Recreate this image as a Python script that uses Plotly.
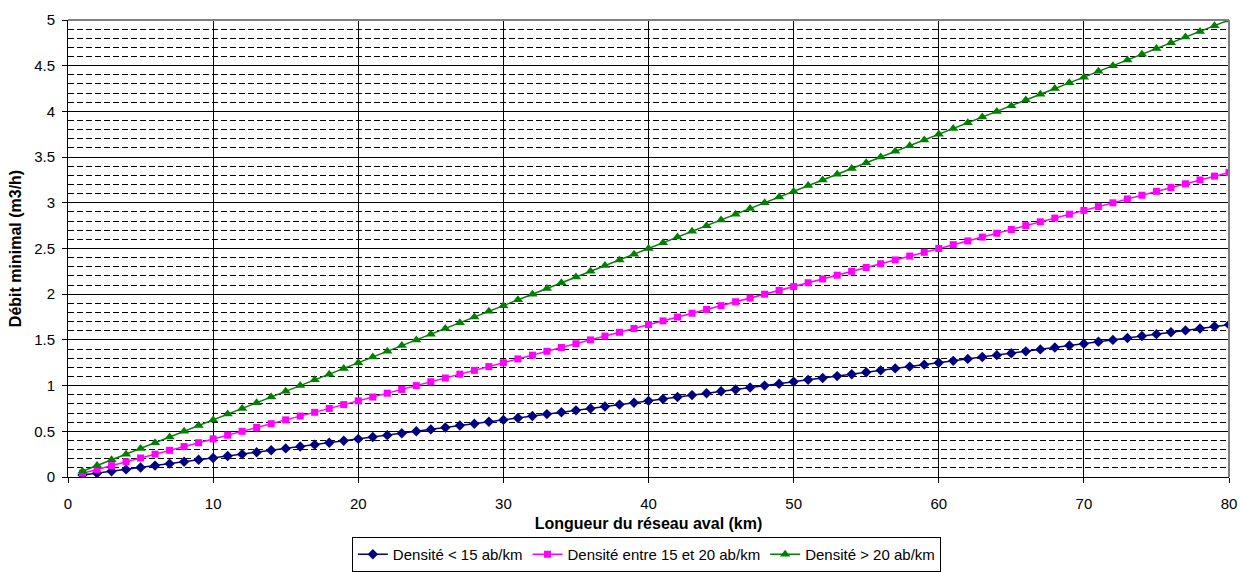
import plotly.graph_objects as go

# Longueur du réseau aval (km)
longueur_km = list(range(1, 81))

# Débit minimal (m3/h) pour chaque classe de densité
debit_faible = [
    0.021, 0.042, 0.063, 0.083, 0.104, 0.125, 0.146, 0.167, 0.188, 0.208,
    0.229, 0.250, 0.271, 0.292, 0.313, 0.333, 0.354, 0.375, 0.396, 0.417,
    0.438, 0.458, 0.479, 0.500, 0.521, 0.542, 0.563, 0.583, 0.604, 0.625,
    0.646, 0.667, 0.688, 0.708, 0.729, 0.750, 0.771, 0.792, 0.813, 0.833,
    0.854, 0.875, 0.896, 0.917, 0.938, 0.958, 0.979, 1.000, 1.021, 1.042,
    1.063, 1.083, 1.104, 1.125, 1.146, 1.167, 1.188, 1.208, 1.229, 1.250,
    1.271, 1.292, 1.313, 1.333, 1.354, 1.375, 1.396, 1.417, 1.438, 1.458,
    1.479, 1.500, 1.521, 1.542, 1.563, 1.583, 1.604, 1.625, 1.646, 1.667,
]
debit_moyen = [
    0.042, 0.083, 0.125, 0.167, 0.208, 0.250, 0.292, 0.333, 0.375, 0.417,
    0.458, 0.500, 0.542, 0.583, 0.625, 0.667, 0.708, 0.750, 0.792, 0.833,
    0.875, 0.917, 0.958, 1.000, 1.042, 1.083, 1.125, 1.167, 1.208, 1.250,
    1.292, 1.333, 1.375, 1.417, 1.458, 1.500, 1.542, 1.583, 1.625, 1.667,
    1.708, 1.750, 1.792, 1.833, 1.875, 1.917, 1.958, 2.000, 2.042, 2.083,
    2.125, 2.167, 2.208, 2.250, 2.292, 2.333, 2.375, 2.417, 2.458, 2.500,
    2.542, 2.583, 2.625, 2.667, 2.708, 2.750, 2.792, 2.833, 2.875, 2.917,
    2.958, 3.000, 3.042, 3.083, 3.125, 3.167, 3.208, 3.250, 3.292, 3.333,
]
debit_fort = [
    0.063, 0.125, 0.188, 0.250, 0.313, 0.375, 0.438, 0.500, 0.563, 0.625,
    0.688, 0.750, 0.813, 0.875, 0.938, 1.000, 1.063, 1.125, 1.188, 1.250,
    1.313, 1.375, 1.438, 1.500, 1.563, 1.625, 1.688, 1.750, 1.813, 1.875,
    1.938, 2.000, 2.063, 2.125, 2.188, 2.250, 2.313, 2.375, 2.438, 2.500,
    2.563, 2.625, 2.688, 2.750, 2.813, 2.875, 2.938, 3.000, 3.063, 3.125,
    3.188, 3.250, 3.313, 3.375, 3.438, 3.500, 3.563, 3.625, 3.688, 3.750,
    3.813, 3.875, 3.938, 4.000, 4.063, 4.125, 4.188, 4.250, 4.313, 4.375,
    4.438, 4.500, 4.563, 4.625, 4.688, 4.750, 4.813, 4.875, 4.938, 5.000,
]

series = [
    ("Densité < 15 ab/km", debit_faible, "#000080", "diamond", 8),
    ("Densité entre 15 et 20 ab/km", debit_moyen, "#FF00FF", "square", 7),
    ("Densité > 20 ab/km", debit_fort, "#008000", "triangle-up", 9),
]

fig = go.Figure()
for nom, valeurs, couleur, symbole, taille in series:
    fig.add_trace(go.Scatter(
        x=longueur_km, y=valeurs, name=nom, mode="lines+markers",
        line=dict(color=couleur, width=1.5),
        marker=dict(symbol=symbole, size=taille, color=couleur),
    ))

police = "Liberation Sans, Arial, sans-serif"

fig.update_layout(
    width=1243, height=572,
    margin=dict(l=68, r=6, t=20, b=95),
    paper_bgcolor="white", plot_bgcolor="white",
    font=dict(family=police, size=15, color="black"),
    showlegend=True,
    legend=dict(
        orientation="h", xref="container", yref="container",
        x=0.52, xanchor="center", y=-0.012, yanchor="bottom",
        bordercolor="black", borderwidth=1,
        font=dict(family=police, size=15, color="black"),
        itemwidth=30, tracegroupgap=0,
    ),
    xaxis=dict(
        range=[0, 80], dtick=10, tick0=0,
        showgrid=True, gridcolor="black", gridwidth=1,
        showline=True, linecolor="black", linewidth=1,
        ticks="outside", ticklen=5, tickcolor="black",
        zeroline=False, ticklabeloverflow="allow", ticklabelstandoff=8,
        title=dict(text="<b>Longueur du réseau aval (km)</b>",
                   font=dict(size=16), standoff=6),
        tickfont=dict(size=15),
    ),
    yaxis=dict(
        range=[0, 5], dtick=0.5, tick0=0,
        showgrid=True, gridcolor="black", gridwidth=1,
        showline=True, linecolor="black", linewidth=1,
        ticks="outside", ticklen=5, tickcolor="black",
        zeroline=False, ticklabelstandoff=4,
        minor=dict(dtick=0.1, showgrid=True, gridcolor="black",
                   gridwidth=1, griddash="6px,3px"),
        title=dict(text="<b>Débit minimal (m3/h)</b>",
                   font=dict(size=16), standoff=8),
        tickfont=dict(size=15),
    ),
    shapes=[
        dict(type="line", xref="x domain", yref="y domain",
             x0=0, x1=1, y0=1, y1=1, line=dict(color="#808080", width=2)),
        dict(type="line", xref="x domain", yref="y domain",
             x0=1, x1=1, y0=0, y1=1, line=dict(color="#808080", width=2)),
    ],
)

fig.write_html("out.html")
